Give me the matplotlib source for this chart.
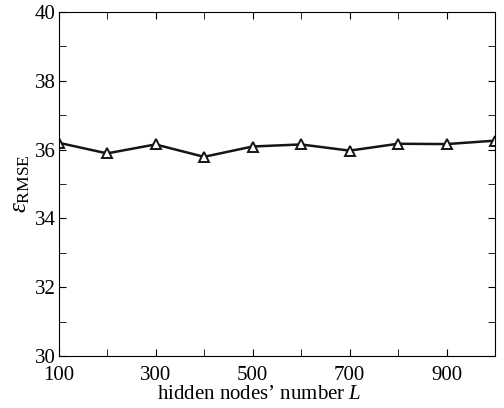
import matplotlib
matplotlib.use("Agg")
import matplotlib.pyplot as plt
from matplotlib.ticker import MultipleLocator

plt.rcParams["font.family"] = ["Liberation Serif", "DejaVu Serif"]
plt.rcParams["mathtext.fontset"] = "custom"
plt.rcParams["mathtext.rm"] = "Liberation Serif"
plt.rcParams["mathtext.it"] = "Liberation Serif:italic"

# hidden nodes vs RMSE
nodes = [100, 200, 300, 400, 500, 600, 700, 800, 900, 1000]
rmse = [36.20, 35.89, 36.15, 35.79, 36.09, 36.15, 35.97, 36.17, 36.16, 36.26]
xticks = [100, 300, 500, 700, 900]

fig = plt.figure(figsize=(5.04, 4.08), dpi=100)
ax = fig.add_axes([58.5 / 504, 52 / 408, 436.5 / 504, 344 / 408])

ax.plot(nodes, rmse, color="#151515", lw=1.8, marker="^", ms=7.5,
        mfc="white", mec="#151515", mew=1.4)

ax.set_xlim(100, 1000)
ax.set_ylim(30, 40)
ax.set_xticks(xticks)
ax.xaxis.set_minor_locator(MultipleLocator(100))
ax.yaxis.set_major_locator(MultipleLocator(2))
ax.yaxis.set_minor_locator(MultipleLocator(1))
ax.tick_params(which="both", direction="in", top=True, right=True, labelsize=15)
ax.tick_params(axis="x", which="both", pad=7)
ax.tick_params(axis="y", which="both", pad=2)
ax.tick_params(which="both", length=5)

ax.set_xlabel("hidden nodes\u2019 number $L$", fontsize=15)
ax.xaxis.set_label_coords(0.46, -0.085)
ax.set_ylabel(r"$\varepsilon_{\rm RMSE}$", fontsize=18, labelpad=2)

fig.savefig("out.png", dpi=100)
